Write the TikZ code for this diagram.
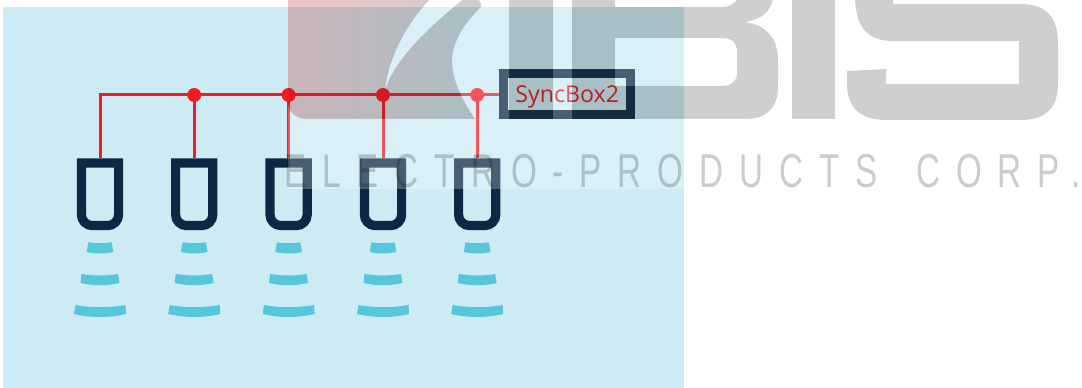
\documentclass[tikz,border=0pt]{standalone}
\usepackage{fontspec}
\usepackage{graphicx}
\setmainfont{Liberation Sans}
\newfontfamily\labelfont{Open Sans}
\definecolor{pagebg}{HTML}{CDEBF3}
\definecolor{navy}{HTML}{0F2744}
\definecolor{wire}{HTML}{F01C24}
\definecolor{wave}{HTML}{55C6DB}
\definecolor{syncred}{HTML}{D81C24}
\definecolor{logogray}{HTML}{363636}
\definecolor{logored}{HTML}{C00808}
\newcommand{\finpath}{(288,-2) -- (431,-2) .. controls (405,25) and (388,60) .. (385,90) .. controls (395,60) and (425,30) .. (465,-2) -- (476,-2) .. controls (480,0) and (482,4) .. (481,7) .. controls (462,25) and (452,45) .. (452,60) .. controls (452,80) and (462,100) .. (475,119) -- (307,119) .. controls (296,119) and (288,112) .. (288,102) -- cycle}
\newcommand{\lettersrest}{(509,-2) rectangle (553,119)
 (572,-2) -- (615,-2) -- (615,7) -- (722,7) .. controls (729,7) and (735,4) .. (738,-2) -- (773,-2) .. controls (771,12) and (760,20) .. (745,22) .. controls (766,25) and (778,38) .. (778,60) -- (778,87) .. controls (778,108) and (766,119) .. (745,119) -- (572,119) -- cycle
 (615,38) -- (722,38) .. controls (732,38) and (737,43) .. (737,52) -- (737,73) .. controls (737,81) and (732,86) .. (722,86) -- (615,86) -- cycle
 (792,-2) rectangle (835,119)
 (855,-2) .. controls (856,28) and (868,41) .. (893,41) -- (1019,41) -- (1019,84) -- (886,84) -- (886,69) -- (847,71) -- (847,83) .. controls (847,108) and (860,120) .. (887,120) -- (1020,120) .. controls (1046,120) and (1058,108) .. (1058,83) -- (1058,43) .. controls (1058,17) and (1046,4) .. (1020,4) -- (893,4) -- (893,-2) -- cycle}
\tikzset{
  px/.style={x=0.75pt,y=-0.75pt},
  busline/.style={draw=wire,line width=2.25pt},
  busdot/.style={circle,fill=wire,inner sep=0pt,minimum size=10.5pt},
  probe/.style={inner sep=0pt,minimum width=35.25pt,minimum height=54pt},
  probeU/.style={draw=navy,line width=6.9pt,line join=miter},
  wavefill/.style={fill=wave},
  syncbox/.style={draw=navy,line width=6.75pt,inner sep=0pt,minimum width=95.6pt,minimum height=30.8pt,text height=13.5pt,text depth=0pt,font=\labelfont\fontsize{17.4}{19}\selectfont,text=syncred},
}
\begin{document}
\begin{tikzpicture}[px]
\useasboundingbox (0,0) rectangle (1082,388);
\clip (0,0) rectangle (1082,388);
\fill[pagebg] (3,7) rectangle (684,388);
% probes and their waves
\foreach \n/\xc in {1/100,2/194.2,3/288.6,4/383,5/477.2}{
  \node[probe] (u\n) at (\xc,194.3) {};
  \begin{scope}[shift={(\xc,0)}]
    \draw[probeU] (-18.6,163) -- (18.6,163) -- (18.6,214.6) .. controls (18.6,220.7) and (13.7,225.6) .. (7.6,225.6) -- (-7.6,225.6) .. controls (-13.7,225.6) and (-18.6,220.7) .. (-18.6,214.6) -- cycle;
    \fill[wavefill] (-11.7,242.3) .. controls (-4,243.6) and (4,243.6) .. (11.7,242.3) -- (13.3,252) .. controls (4,254) and (-4,254) .. (-13.3,252) -- cycle;
    \fill[wavefill] (-18.5,274) .. controls (-6,276) and (6,276) .. (18,274) -- (19.5,283) .. controls (6,286) and (-6,286) .. (-19.5,283) -- cycle;
    \fill[wavefill] (-24.5,305) .. controls (-8,308) and (8,308) .. (25.5,305) -- (26,314) .. controls (9,318) and (-9,318) .. (-26,314) -- cycle;
  \end{scope}
}
% SyncBox and bus
\node[syncbox] (sync) at (567.2,94) {SyncBox2};
\node[busdot] (d1) at (194.2,95) {};
\node[busdot] (d2) at (288.6,95) {};
\node[busdot] (d3) at (383,95) {};
\node[busdot] (d4) at (477.2,95) {};
\coordinate (corner) at (100,95);
\draw[busline] (sync.west |- d4) -- (d4.center) -- (d3.center) -- (d2.center) -- (d1.center) -- (corner) -- (u1.north);
\draw[busline] (d1.center) -- (u2.north);
\draw[busline] (d2.center) -- (u3.north);
\draw[busline] (d3.center) -- (u4.north);
\draw[busline] (d4.center) -- (u5.north);
% watermark: translucent white ground with the logo left out
\fill[white,fill opacity=.25,even odd rule] (288,-2) rectangle (684,189) \finpath \lettersrest;
\shade[left color=logored,right color=logogray,fill opacity=.24] \finpath;
\fill[logogray,fill opacity=.24,even odd rule] \lettersrest;
\node[anchor=base west,inner sep=0pt,text=black,text opacity=.2,font=\fontsize{35.6}{40}\selectfont] (mark) at (284,188) {\scalebox{0.7}[1]{\addfontfeature{LetterSpace=48}ELECTRO-PRODUCTS\hspace{14pt} CORP.}};
\end{tikzpicture}
\end{document}
